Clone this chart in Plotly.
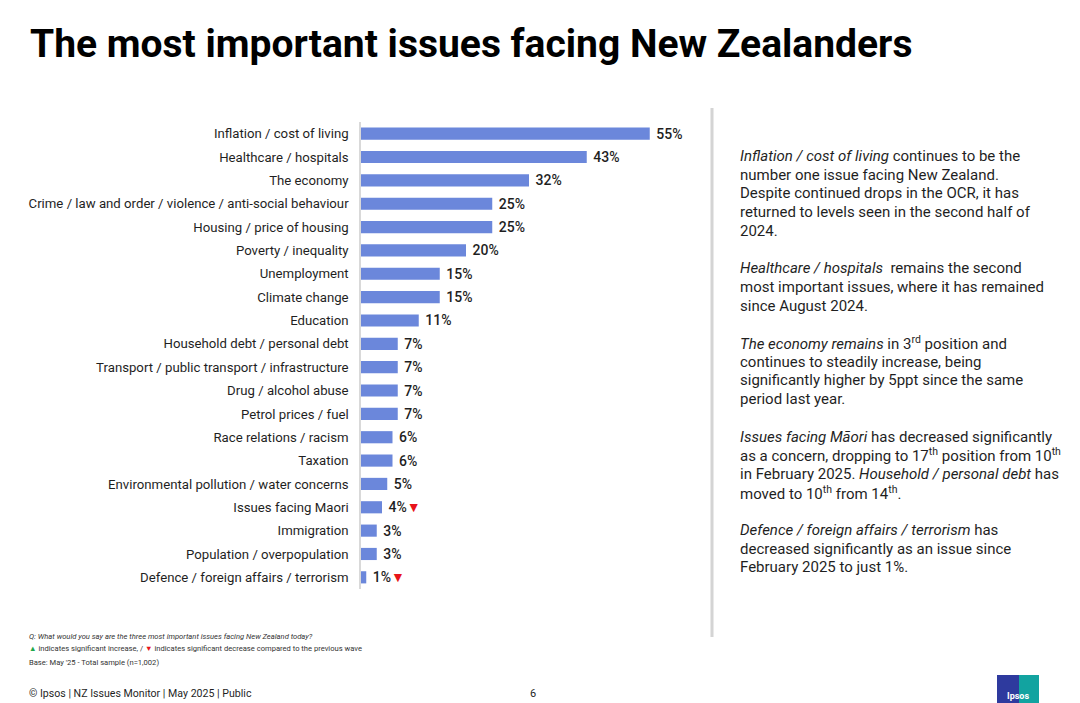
import plotly.graph_objects as go

# data
issues = [
    "Inflation / cost of living",
    "Healthcare / hospitals",
    "The economy",
    "Crime / law and order / violence / anti-social behaviour",
    "Housing / price of housing",
    "Poverty / inequality",
    "Unemployment",
    "Climate change",
    "Education",
    "Household debt / personal debt",
    "Transport / public transport / infrastructure",
    "Drug / alcohol abuse",
    "Petrol prices / fuel",
    "Race relations / racism",
    "Taxation",
    "Environmental pollution / water concerns",
    "Issues facing Maori",
    "Immigration",
    "Population / overpopulation",
    "Defence / foreign affairs / terrorism",
]
shares = [55, 43, 32, 25, 25, 20, 15, 15, 11, 7, 7, 7, 7, 6, 6, 5, 4, 3, 3, 1]
# significant change vs previous wave: "up", "down" or ""
changes = ["", "", "", "", "", "", "", "", "", "", "", "", "", "", "", "", "down", "", "", "down"]

commentary = [
    "<i>Inflation / cost of living</i> continues to be the",
    "number one issue facing New Zealand.",
    "Despite continued drops in the OCR, it has",
    "returned to levels seen in the second half of",
    "2024.",
    "",
    "<i>Healthcare / hospitals</i>  remains the second",
    "most important issues, where it has remained",
    "since August 2024.",
    "",
    "<i>The economy remains</i> in 3<sup>rd</sup> position and",
    "continues to steadily increase, being",
    "significantly higher by 5ppt since the same",
    "period last year.",
    "",
    "<i>Issues facing Māori</i> has decreased significantly",
    "as a concern, dropping to 17<sup>th</sup> position from 10<sup>th</sup>",
    "in February 2025. <i>Household / personal debt</i> has",
    "moved to 10<sup>th</sup> from 14<sup>th</sup>.",
    "",
    "<i>Defence / foreign affairs / terrorism</i> has",
    "decreased significantly as an issue since",
    "February 2025 to just 1%.",
]

# the page body has an 8px margin, so the figure is drawn 8px in from the corner
OFF = 8
W, H = 1080 - OFF, 703 - OFF
FONT = "Roboto"
BAR = "#6b87db"
DARK = "#1f1f1f"


def px_x(x):
    return (x - OFF) / W


def px_y(y):
    return 1 - (y - OFF) / H


def _value_label(v, change):
    arrow = ""
    if change == "down":
        arrow = "<span style='color:#e8141a'>▼</span>"
    elif change == "up":
        arrow = "<span style='color:#1fa84a'>▲</span>"
    return f"\u00a0{v}%{arrow}"


labels = [_value_label(v, c) for v, c in zip(shares, changes)]

fig = go.Figure()
fig.add_trace(
    go.Bar(
        x=shares,
        y=issues,
        orientation="h",
        marker=dict(color=BAR, line=dict(width=0)),
        width=0.52,
        text=labels,
        textposition="outside",
        constraintext="none",
        textfont=dict(family=FONT, size=14, color=DARK, weight=500),
        cliponaxis=False,
        hoverinfo="skip",
    )
)

fig.update_layout(
    width=W,
    height=H,
    margin=dict(l=0, r=0, t=0, b=0),
    paper_bgcolor="white",
    plot_bgcolor="white",
    showlegend=False,
    font=dict(family=FONT, color=DARK),
    xaxis=dict(
        domain=[px_x(361), px_x(676)],
        range=[0, 60],
        visible=False,
        fixedrange=True,
    ),
    yaxis=dict(
        domain=[px_y(589), px_y(122)],
        autorange="reversed",
        showline=True,
        linecolor="#d9d9d9",
        linewidth=1.5,
        showgrid=False,
        ticks="",
        ticklabelstandoff=8,
        tickfont=dict(family=FONT, size=13.2, color=DARK),
    ),
)

# title
fig.add_annotation(
    text="<b>The most important issues facing New Zealanders</b>",
    xref="paper", yref="paper", x=px_x(28), y=px_y(44),
    xanchor="left", yanchor="middle", showarrow=False,
    font=dict(family=FONT, size=39, color="#000000", weight=900),
)

# commentary panel
for i, line in enumerate(commentary):
    if not line:
        continue
    fig.add_annotation(
        text=line,
        xref="paper", yref="paper", x=px_x(738), y=px_y(156 + i * 18.7),
        xanchor="left", yanchor="middle", showarrow=False, align="left",
        font=dict(family=FONT, size=15, color=DARK),
    )

# footnotes
footnotes = [
    ("<i>Q: What would you say are the three most important issues facing New Zealand today?</i>", 636),
    ("<span style='color:#1fa84a'>▲</span> indicates significant increase, / "
     "<span style='color:#e8141a'>▼</span> indicates significant decrease compared to the previous wave", 648),
    ("Base: May '25 - Total sample (n=1,002)", 662),
]
for txt, y in footnotes:
    fig.add_annotation(
        text=txt, xref="paper", yref="paper", x=px_x(27), y=px_y(y),
        xanchor="left", yanchor="middle", showarrow=False,
        font=dict(family=FONT, size=7.6, color="#333333"),
    )

fig.add_annotation(
    text="© Ipsos | NZ Issues Monitor | May 2025 | Public",
    xref="paper", yref="paper", x=px_x(27), y=px_y(693),
    xanchor="left", yanchor="middle", showarrow=False,
    font=dict(family=FONT, size=10.6, color=DARK),
)
fig.add_annotation(
    text="6", xref="paper", yref="paper", x=px_x(533), y=px_y(693),
    xanchor="center", yanchor="middle", showarrow=False,
    font=dict(family=FONT, size=11, color=DARK),
)

# panel divider and right page edge
fig.add_shape(type="line", xref="paper", yref="paper",
              x0=px_x(712), x1=px_x(712), y0=px_y(108), y1=px_y(637),
              line=dict(color="#d4d4d4", width=3))
fig.add_shape(type="line", xref="paper", yref="paper",
              x0=px_x(1078.5), x1=px_x(1078.5), y0=0, y1=1,
              line=dict(color="#dcdcdc", width=2))

# logo block
fig.add_shape(type="rect", xref="paper", yref="paper",
              x0=px_x(997), x1=px_x(1019), y0=0, y1=px_y(675),
              line=dict(width=0), fillcolor="#2e3a9e")
fig.add_shape(type="rect", xref="paper", yref="paper",
              x0=px_x(1019), x1=px_x(1039), y0=0, y1=px_y(675),
              line=dict(width=0), fillcolor="#12a3a0")
fig.add_annotation(
    text="<b>Ipsos</b>", xref="paper", yref="paper", x=px_x(1018), y=px_y(696),
    xanchor="center", yanchor="middle", showarrow=False,
    font=dict(family=FONT, size=9, color="white"),
)

fig.write_html("out.html")
